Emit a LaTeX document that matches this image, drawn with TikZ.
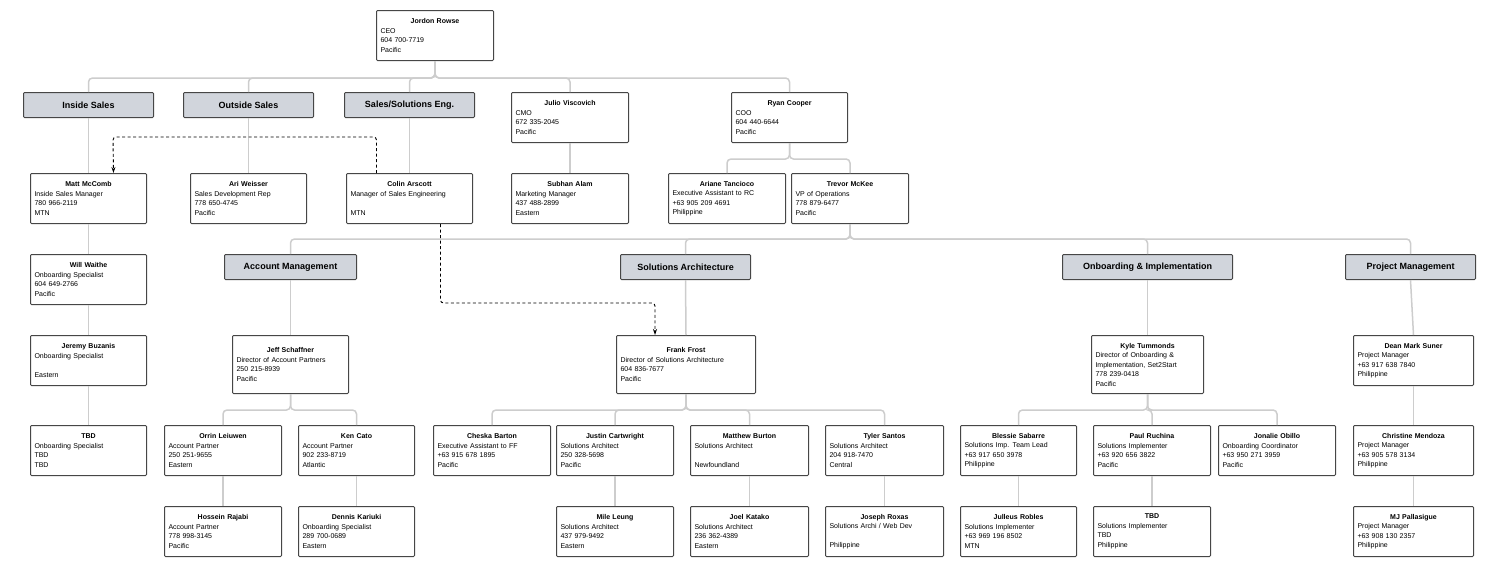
\documentclass[tikz,border=0pt]{standalone}
\usepackage{fontspec}
\setmainfont{Liberation Sans}
\usetikzlibrary{arrows.meta,positioning}
\definecolor{boxline}{RGB}{70,70,70}
\definecolor{hdrfill}{RGB}{209,213,220}
\definecolor{linkgray}{RGB}{205,205,205}
\tikzset{
  card/.style={draw=boxline, line width=1pt, rounded corners=1pt, fill=white,
    anchor=north west, inner sep=4pt, font=\fontsize{7}{9.5}\selectfont},
  hdr/.style={draw=boxline, line width=1pt, rounded corners=1pt, fill=hdrfill,
    anchor=north west, font=\fontsize{9}{11}\selectfont\bfseries},
  link/.style={draw=linkgray, line width=1.5pt, rounded corners=4pt},
  dotted link/.style={draw=black, line width=0.9pt, dash pattern=on 3pt off 2.5pt, -{Stealth[length=6pt,width=4pt]}},
}
% id, left, top, width, height, name, lines
\newcommand\card[7]{%
  \node[card, minimum width=#4pt, minimum height=#5pt, text width=\dimexpr#4pt-8pt\relax] (#1) at (#2,#3)
    {\centering\textbf{#6}\par\raggedright #7\par};}
\begin{document}
\begin{tikzpicture}[x=1pt,y=-1pt]
\useasboundingbox (0,0) rectangle (1500,576);
% top levels
\card{ceo}{376}{10}{117}{50}{Jordon Rowse}{CEO\\604 700-7719\\Pacific}
\node[hdr, minimum width=130pt, minimum height=25pt] (is) at (23,92) {Inside Sales};
\node[hdr, minimum width=130pt, minimum height=25pt] (os) at (183,92) {Outside Sales};
\node[hdr, minimum width=130pt, minimum height=25pt] (se) at (344,92) {Sales/Solutions Eng.};
\card{julio}{511}{92}{117}{50}{Julio Viscovich}{CMO\\672 335-2045\\Pacific}
\card{ryan}{731}{92}{116}{50}{Ryan Cooper}{COO\\604 440-6644\\Pacific}
% second row
\card{matt}{30}{173}{116}{50}{Matt McComb}{Inside Sales Manager\\780 966-2119\\MTN}
\card{ari}{190}{173}{116}{50}{Ari Weisser}{Sales Development Rep\\778 650-4745\\Pacific}
\card{colin}{346}{173}{126}{50}{Colin Arscott}{Manager of Sales Engineering\\~\\MTN}
\card{subhan}{511}{173}{117}{50}{Subhan Alam}{Marketing Manager\\437 488-2899\\Eastern}
\card{ariane}{668}{173}{117}{50}{Ariane Tancioco}{Executive Assistant to RC\\+63 905 209 4691\\Philippine}
\card{trevor}{791}{173}{117}{50}{Trevor McKee}{VP of Operations\\778 879-6477\\Pacific}
% inside sales column
\card{will}{30}{254}{116}{50}{Will Waithe}{Onboarding Specialist\\604 649-2766\\Pacific}
\card{jeremy}{30}{335}{116}{50}{Jeremy Buzanis}{Onboarding Specialist\\~\\Eastern}
\card{tbda}{30}{425}{116}{50}{TBD}{Onboarding Specialist\\TBD\\TBD}
% departments
\node[hdr, minimum width=132pt, minimum height=25pt] (am) at (224,254) {Account Management};
\node[hdr, minimum width=130pt, minimum height=25pt] (sa) at (620,254) {Solutions Architecture};
\node[hdr, minimum width=170pt, minimum height=25pt] (oi) at (1062,254) {Onboarding \& Implementation};
\node[hdr, minimum width=130pt, minimum height=25pt] (pm) at (1345,254) {Project Management};
\card{jeff}{232}{335}{116}{58}{Jeff Schaffner}{Director of Account Partners\\250 215-8939\\Pacific}
\card{frank}{616}{335}{139}{58}{Frank Frost}{Director of Solutions Architecture\\604 836-7677\\Pacific}
\card{kyle}{1091}{335}{112}{58}{Kyle Tummonds}{Director of Onboarding \&\\Implementation, Set2Start\\778 239-0418\\Pacific}
\card{dean}{1353}{335}{120}{50}{Dean Mark Suner}{Project Manager\\+63 917 638 7840\\Philippine}
% staff row
\card{orrin}{164}{425}{117}{50}{Orrin Leiuwen}{Account Partner\\250 251-9655\\Eastern}
\card{ken}{298}{425}{116}{50}{Ken Cato}{Account Partner\\902 233-8719\\Atlantic}
\card{cheska}{433}{425}{117}{50}{Cheska Barton}{Executive Assistant to FF\\+63 915 678 1895\\Pacific}
\card{justin}{556}{425}{117}{50}{Justin Cartwright}{Solutions Architect\\250 328-5698\\Pacific}
\card{matthew}{690}{425}{118}{50}{Matthew Burton}{Solutions Architect\\~\\Newfoundland}
\card{tyler}{825}{425}{118}{50}{Tyler Santos}{Solutions Architect\\204 918-7470\\Central}
\card{blessie}{960}{425}{116}{50}{Blessie Sabarre}{Solutions Imp. Team Lead\\+63 917 650 3978\\Philippine}
\card{paul}{1093}{425}{117}{50}{Paul Ruchina}{Solutions Implementer\\+63 920 656 3822\\Pacific}
\card{jonalie}{1218}{425}{117}{50}{Jonalie Obillo}{Onboarding Coordinator\\+63 950 271 3959\\Pacific}
\card{christine}{1353}{425}{120}{50}{Christine Mendoza}{Project Manager\\+63 905 578 3134\\Philippine}
% bottom row
\card{hossein}{164}{506}{117}{50}{Hossein Rajabi}{Account Partner\\778 998-3145\\Pacific}
\card{dennis}{298}{506}{116}{50}{Dennis Kariuki}{Onboarding Specialist\\289 700-0689\\Eastern}
\card{mile}{556}{506}{117}{50}{Mile Leung}{Solutions Architect\\437 979-9492\\Eastern}
\card{joel}{690}{506}{118}{50}{Joel Katako}{Solutions Architect\\236 362-4389\\Eastern}
\card{joseph}{825}{506}{118}{50}{Joseph Roxas}{Solutions Archi / Web Dev\\~\\Philippine}
\card{julleus}{960}{506}{116}{50}{Julleus Robles}{Solutions Implementer\\+63 969 196 8502\\MTN}
\card{tbdb}{1093}{506}{117}{50}{TBD}{Solutions Implementer\\TBD\\Philippine}
\card{mj}{1353}{506}{120}{50}{MJ Pallasigue}{Project Manager\\+63 908 130 2357\\Philippine}

\begin{scope}[on background layer/.style={}]
\foreach \t in {is,os,se,julio,ryan}
  \draw[link] (ceo.south) -- ++(0,17) -| (\t.north);
\foreach \t in {ariane,trevor}
  \draw[link] (ryan.south) -- ++(0,16) -| (\t.north);
\foreach \t in {am,sa,oi,pm}
  \draw[link] (trevor.south) -- ++(0,15) -| (\t.north);
\foreach \t in {orrin,ken}
  \draw[link] (jeff.south) -- ++(0,16) -| (\t.north);
\foreach \t in {cheska,justin,matthew,tyler}
  \draw[link] (frank.south) -- ++(0,16) -| (\t.north);
\foreach \t in {blessie,paul,jonalie}
  \draw[link] (kyle.south) -- ++(0,16) -| (\t.north);
\foreach \a/\b in {is/matt,matt/will,will/jeremy,jeremy/tbda,os/ari,se/colin,julio/subhan,
    am/jeff,sa/frank,oi/kyle,pm/dean,dean/christine,christine/mj,orrin/hossein,ken/dennis,
    justin/mile,matthew/joel,tyler/joseph,blessie/julleus,paul/tbdb}
  \draw[link] (\a.south) -- (\b.north);
\end{scope}
% dotted reporting lines
\draw[dotted link, rounded corners=3pt] ([xshift=-33pt]colin.north) |- (113,137) -- ([xshift=25pt]matt.north);
\draw[dotted link, rounded corners=3pt] ([xshift=31pt]colin.south) |- (655,303) -- (frank.north -| 655,0);
\end{tikzpicture}
\end{document}
